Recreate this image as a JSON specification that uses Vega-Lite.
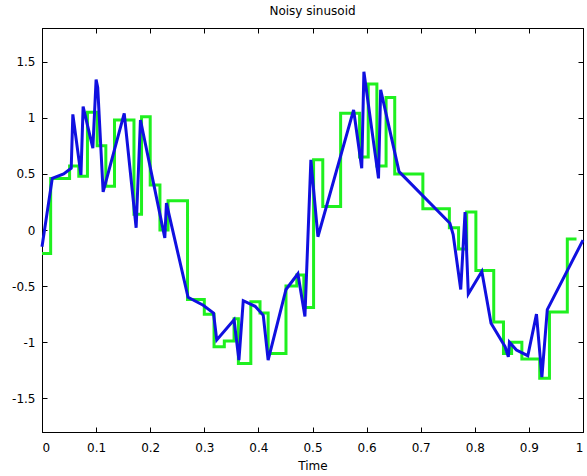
{
  "$schema": "https://vega.github.io/schema/vega-lite/v6.json",
  "autosize": "none",
  "width": 541,
  "height": 404,
  "padding": {"left": 42, "top": 28, "right": 4, "bottom": 44},
  "background": "white",
  "title": {"text": "Noisy sinusoid", "fontSize": 12, "fontWeight": "normal", "font": "DejaVu Sans", "color": "#000", "offset": 10},
  "config": {
    "view": {"stroke": "#000", "strokeWidth": 1},
    "axis": {"grid": false, "domainColor": "#000", "tickColor": "#000", "tickSize": -5, "labelPadding": 9, "labelFont": "DejaVu Sans", "labelFontSize": 12, "labelColor": "#000", "titleFont": "DejaVu Sans", "titleFontSize": 12, "titleFontWeight": "normal", "titleColor": "#000"}
  },
  "datasets": {
    "green": [
      {"t": 0.000, "v": -0.21}, {"t": 0.016, "v": 0.46}, {"t": 0.051, "v": 0.57}, {"t": 0.068, "v": 0.48},
      {"t": 0.084, "v": 1.05}, {"t": 0.102, "v": 0.75}, {"t": 0.118, "v": 0.39}, {"t": 0.134, "v": 0.98},
      {"t": 0.170, "v": 0.14}, {"t": 0.184, "v": 1.01}, {"t": 0.200, "v": 0.40}, {"t": 0.218, "v": 0.00},
      {"t": 0.233, "v": 0.26}, {"t": 0.269, "v": -0.62}, {"t": 0.300, "v": -0.75}, {"t": 0.318, "v": -1.04},
      {"t": 0.337, "v": -0.99}, {"t": 0.355, "v": -0.79}, {"t": 0.363, "v": -1.19}, {"t": 0.386, "v": -0.64},
      {"t": 0.403, "v": -0.74}, {"t": 0.418, "v": -1.10}, {"t": 0.451, "v": -0.50}, {"t": 0.471, "v": -0.40},
      {"t": 0.484, "v": -0.69}, {"t": 0.502, "v": 0.625}, {"t": 0.519, "v": 0.21}, {"t": 0.552, "v": 1.04},
      {"t": 0.587, "v": 0.65}, {"t": 0.603, "v": 1.30}, {"t": 0.619, "v": 0.57}, {"t": 0.636, "v": 1.18},
      {"t": 0.652, "v": 0.50}, {"t": 0.704, "v": 0.19}, {"t": 0.753, "v": 0.02}, {"t": 0.770, "v": -0.17},
      {"t": 0.785, "v": 0.16}, {"t": 0.802, "v": -0.36}, {"t": 0.835, "v": -0.82}, {"t": 0.853, "v": -1.10},
      {"t": 0.868, "v": -1.00}, {"t": 0.887, "v": -1.15}, {"t": 0.920, "v": -1.32}, {"t": 0.938, "v": -0.73},
      {"t": 0.971, "v": -0.08}, {"t": 0.988, "v": -0.08}
    ],
    "blue": [
      {"t": 0.000, "v": -0.15}, {"t": 0.019, "v": 0.46}, {"t": 0.040, "v": 0.50}, {"t": 0.054, "v": 0.55},
      {"t": 0.057, "v": 1.03}, {"t": 0.072, "v": 0.49}, {"t": 0.076, "v": 1.10}, {"t": 0.094, "v": 0.73},
      {"t": 0.100, "v": 1.34}, {"t": 0.103, "v": 1.27}, {"t": 0.113, "v": 0.34}, {"t": 0.152, "v": 1.04},
      {"t": 0.174, "v": 0.02}, {"t": 0.182, "v": 0.98}, {"t": 0.227, "v": -0.07}, {"t": 0.230, "v": 0.24},
      {"t": 0.270, "v": -0.60}, {"t": 0.298, "v": -0.67}, {"t": 0.317, "v": -0.74}, {"t": 0.323, "v": -0.98},
      {"t": 0.355, "v": -0.80}, {"t": 0.364, "v": -1.16}, {"t": 0.372, "v": -0.63}, {"t": 0.394, "v": -0.68},
      {"t": 0.409, "v": -0.76}, {"t": 0.418, "v": -1.16}, {"t": 0.451, "v": -0.53}, {"t": 0.473, "v": -0.39},
      {"t": 0.486, "v": -0.77}, {"t": 0.497, "v": 0.625}, {"t": 0.510, "v": -0.06}, {"t": 0.576, "v": 1.07},
      {"t": 0.591, "v": 0.55}, {"t": 0.595, "v": 1.41}, {"t": 0.622, "v": 0.46}, {"t": 0.626, "v": 1.25},
      {"t": 0.660, "v": 0.52}, {"t": 0.754, "v": 0.06}, {"t": 0.760, "v": -0.04}, {"t": 0.774, "v": -0.53},
      {"t": 0.782, "v": 0.16}, {"t": 0.788, "v": -0.57}, {"t": 0.813, "v": -0.37}, {"t": 0.830, "v": -0.83},
      {"t": 0.856, "v": -1.04}, {"t": 0.862, "v": -1.13}, {"t": 0.864, "v": -1.00}, {"t": 0.877, "v": -1.07},
      {"t": 0.898, "v": -1.12}, {"t": 0.914, "v": -0.75}, {"t": 0.924, "v": -1.31}, {"t": 0.934, "v": -0.71},
      {"t": 1.000, "v": -0.09}
    ]
  },
  "layer": [
    {
      "data": {"name": "green"},
      "mark": {"type": "line", "interpolate": "step-after", "color": "#1ff01f", "strokeWidth": 3},
      "encoding": {
        "x": {"field": "t", "type": "quantitative", "scale": {"domain": [0, 1], "nice": false, "zero": false},
              "axis": {"orient": "top", "labels": false, "title": null, "values": [0, 0.1, 0.2, 0.3, 0.4, 0.5, 0.6, 0.7, 0.8, 0.9, 1]}},
        "y": {"field": "v", "type": "quantitative", "scale": {"domain": [-1.8, 1.8], "nice": false, "zero": false},
              "axis": {"orient": "right", "labels": false, "title": null, "values": [-1.5, -1, -0.5, 0, 0.5, 1, 1.5]}}
      }
    },
    {
      "data": {"name": "blue"},
      "mark": {"type": "line", "color": "#1010e0", "strokeWidth": 3, "strokeJoin": "miter"},
      "encoding": {
        "x": {"field": "t", "type": "quantitative", "scale": {"domain": [0, 1], "nice": false, "zero": false},
              "axis": {"orient": "bottom", "title": "Time", "labelPadding": 15, "titlePadding": 7, "values": [0, 0.1, 0.2, 0.3, 0.4, 0.5, 0.6, 0.7, 0.8, 0.9, 1], "labelExpr": "format(datum.value, '~g')"}},
        "y": {"field": "v", "type": "quantitative", "scale": {"domain": [-1.8, 1.8], "nice": false, "zero": false},
              "axis": {"orient": "left", "title": null, "labelPadding": 12, "values": [-1.5, -1, -0.5, 0, 0.5, 1, 1.5], "labelExpr": "replace(format(datum.value, '~g'), '\u2212', '-')"}}
      }
    }
  ],
  "resolve": {"axis": {"x": "independent", "y": "independent"}}
}
